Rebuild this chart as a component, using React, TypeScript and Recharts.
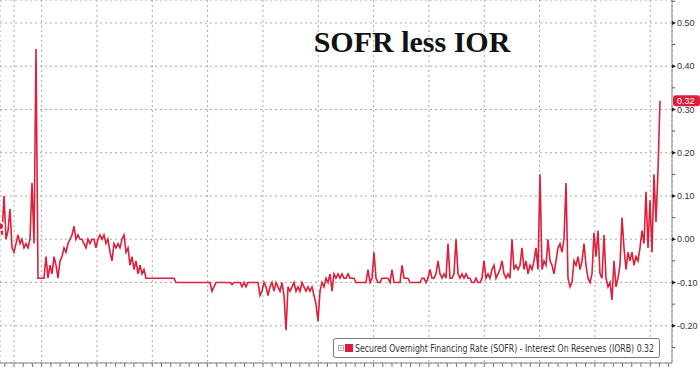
import React from 'react';
import { ComposedChart, Line, XAxis, YAxis, CartesianGrid, ReferenceLine } from 'recharts';

// SOFR minus IOR spread (percentage points), evenly spaced observations
const sofrLessIor: number[] = [
  0.03, 0.01, 0.10, 0.00, 0.02, 0.07, -0.02, -0.03, -0.01, 0.01,
  -0.01, 0.00, -0.02, -0.01, -0.02, 0.00, 0.13, -0.01, 0.44, -0.09,
  -0.09, -0.09, -0.09, -0.04, -0.09, -0.06, -0.08, -0.04, -0.06, -0.09,
  -0.05, -0.04, -0.02, -0.03, -0.01, 0.00, 0.01, 0.03, 0.00, 0.01,
  0.00, 0.00, -0.01, -0.02, 0.00, -0.01, 0.00, 0.00, -0.02, 0.00,
  0.01, 0.00, 0.01, -0.01, 0.00, -0.03, -0.05, -0.01, -0.02, -0.01,
  -0.02, 0.00, 0.01, -0.03, -0.02, -0.06, -0.04, -0.07, -0.05, -0.08,
  -0.06, -0.08, -0.07, -0.09, -0.09, -0.09, -0.09, -0.09, -0.09, -0.09,
  -0.09, -0.09, -0.09, -0.09, -0.09, -0.09, -0.09, -0.09, -0.10, -0.10,
  -0.10, -0.10, -0.10, -0.10, -0.10, -0.10, -0.10, -0.10, -0.10, -0.10,
  -0.10, -0.10, -0.10, -0.10, -0.10, -0.10, -0.12, -0.11, -0.10, -0.10,
  -0.10, -0.10, -0.10, -0.10, -0.10, -0.10, -0.105, -0.10, -0.10, -0.10,
  -0.10, -0.11, -0.10, -0.11, -0.10, -0.10, -0.10, -0.10, -0.10, -0.10,
  -0.13, -0.12, -0.10, -0.11, -0.13, -0.11, -0.10, -0.12, -0.10, -0.11,
  -0.12, -0.10, -0.13, -0.21, -0.11, -0.12, -0.11, -0.10, -0.12, -0.11,
  -0.12, -0.10, -0.11, -0.12, -0.11, -0.12, -0.11, -0.13, -0.15, -0.19,
  -0.12, -0.10, -0.11, -0.09, -0.10, -0.08, -0.12, -0.08, -0.09, -0.08,
  -0.09, -0.08, -0.09, -0.09, -0.08, -0.09, -0.09, -0.09, -0.10, -0.10,
  -0.10, -0.10, -0.10, -0.10, -0.07, -0.10, -0.09, -0.03, -0.09, -0.10,
  -0.10, -0.09, -0.09, -0.09, -0.09, -0.10, -0.07, -0.10, -0.10, -0.10,
  -0.10, -0.06, -0.09, -0.09, -0.09, -0.10, -0.10, -0.10, -0.10, -0.10,
  -0.10, -0.09, -0.09, -0.10, -0.09, -0.07, -0.09, -0.09, -0.08, -0.05,
  -0.08, -0.09, -0.08, -0.09, -0.01, -0.09, -0.09, -0.08, 0.00, -0.08,
  -0.09, -0.08, -0.09, -0.08, -0.09, -0.09, -0.10, -0.10, -0.09, -0.10,
  -0.10, -0.09, -0.05, -0.09, -0.08, -0.09, -0.07, -0.06, -0.09, -0.08,
  -0.07, -0.05, -0.08, -0.09, -0.08, -0.09, 0.00, -0.07, -0.06, -0.07,
  -0.06, -0.02, -0.07, -0.05, -0.08, -0.06, -0.07, -0.05, -0.02, -0.07,
  0.15, -0.07, -0.05, -0.06, 0.00, -0.05, -0.06, -0.08, -0.05, -0.02,
  -0.01, -0.03, 0.00, 0.13, -0.09, -0.11, -0.10, -0.05, -0.06, -0.04,
  -0.07, -0.05, -0.01, -0.06, -0.09, -0.10, -0.08, 0.015, -0.04, 0.02,
  -0.08, -0.09, 0.01, -0.09, -0.11, -0.10, -0.14, -0.05, -0.11, -0.09,
  -0.06, 0.05, -0.02, -0.07, -0.03, -0.05, -0.03, -0.06, -0.04, -0.05,
  -0.02, 0.02, -0.01, 0.11, -0.02, 0.09, -0.03, 0.15, 0.04, 0.16,
  0.32,
];

const lastValue = 0.32;
const title = 'SOFR less IOR';
const legendLabel = 'Secured Overnight Financing Rate (SOFR) - Interest On Reserves (IORB) 0.32';

const yMajorTicks = [-0.2, -0.1, 0, 0.1, 0.2, 0.3, 0.4, 0.5];
const yAllTicks = [-0.25, -0.2, -0.15, -0.1, -0.05, 0, 0.05, 0.1, 0.15, 0.2, 0.25, 0.3, 0.35, 0.4, 0.45, 0.5, 0.55];

const data = sofrLessIor.map((v, i) => ({ t: i, v }));

const X_DOMAIN: [number, number] = [0, 336];
const Y_DOMAIN: [number, number] = [-0.286, 0.553];
const xMajorTicks = Array.from({ length: 24 }, (_, k) => 7 + 13.83 * k);
const xMinorTicks = Array.from({ length: 74 }, (_, j) => 2.39 + 4.61 * j).filter((t) => t <= 336);

const RED = '#de1f3c';

const YTick = (props: any) => {
  const { x, y, payload } = props;
  const v = payload.value as number;
  const major = Math.abs(Math.round(v * 10) - v * 10) < 1e-6;
  if (!major) {
    return <line x1={x} x2={x + 3} y1={y} y2={y} stroke="#555" strokeWidth={1} />;
  }
  return (
    <g>
      <polygon points={`${x},${y - 2} ${x + 4},${y} ${x},${y + 2}`} fill="#222" />
      <text x={x + 5} y={y} dy={3.2} fontSize={9} fill="#333" fontFamily="'Liberation Sans', Arial, sans-serif">
        {v.toFixed(2)}
      </text>
    </g>
  );
};

const EmptyTick = () => <g />;

const LastBadge = (props: any) => {
  const vb = props.viewBox || {};
  const bx = (vb.x || 0) + (vb.width || 0) + 1;
  const by = vb.y || 0;
  return (
    <g>
      <rect x={bx} y={by - 5.5} width={27} height={11} rx={3} fill={RED} />
      <text x={bx + 4} y={by} dy={3.2} fontSize={9} fill="#fff" fontFamily="'Liberation Sans', Arial, sans-serif">
        {lastValue.toFixed(2)}
      </text>
    </g>
  );
};

export default function App() {
  return (
    <div style={{ position: 'absolute', left: 0, top: 0, width: 700, height: 375, background: '#fff' }}>
      <ComposedChart width={700} height={375} data={data} margin={{ top: 0, right: 0, bottom: 0, left: 0 }}>
        <XAxis xAxisId="g" dataKey="t" type="number" domain={X_DOMAIN} ticks={xMajorTicks} hide allowDataOverflow />
        <YAxis yAxisId="g" orientation="right" type="number" domain={Y_DOMAIN} ticks={yMajorTicks} hide width={28} allowDataOverflow />
        <CartesianGrid xAxisId="g" yAxisId="g" stroke="#a8a8a8" strokeDasharray="2 3" />
        <XAxis
          dataKey="t"
          type="number"
          domain={X_DOMAIN}
          ticks={xMinorTicks}
          interval={0}
          height={12}
          allowDataOverflow
          axisLine={{ stroke: '#888' }}
          tickLine={{ stroke: '#777' }}
          tickSize={4}
          tick={EmptyTick}
        />
        <YAxis
          orientation="right"
          type="number"
          domain={Y_DOMAIN}
          ticks={yAllTicks}
          interval={0}
          width={28}
          allowDataOverflow
          axisLine={{ stroke: '#888' }}
          tickLine={false}
          tickSize={0}
          tickMargin={0}
          tick={YTick}
        />
        <Line
          type="linear"
          dataKey="v"
          stroke={RED}
          strokeWidth={1.6}
          dot={false}
          isAnimationActive={false}
        />
        <ReferenceLine y={lastValue} stroke="none" ifOverflow="visible" label={LastBadge} />
      </ComposedChart>
      <svg width={700} height={375} style={{ position: 'absolute', left: 0, top: 0, pointerEvents: 'none' }}>
        <text x={412} y={52} textAnchor="middle" fontSize={30} fontWeight="bold" fill="#111" fontFamily="'Liberation Serif', 'Times New Roman', serif">
          {title}
        </text>
        <g transform="translate(333,338)">
          <rect x={0.5} y={0.5} width={326} height={19} rx={2} fill="#fff" stroke="#777" />
          <rect x={5.5} y={7.5} width={5} height={5} fill="#fff" stroke="#999" strokeWidth={0.8} />
          <line x1={6.5} x2={9.5} y1={10} y2={10} stroke="#999" strokeWidth={0.8} />
          <rect x={12} y={6} width={8} height={8} fill={RED} />
          <text x={22} y={14} fontSize={10} fill="#333" textLength={299} lengthAdjust="spacingAndGlyphs" fontFamily="'Liberation Sans Narrow', 'DejaVu Sans Condensed', 'Liberation Sans', Arial, sans-serif">
            {legendLabel}
          </text>
        </g>
      </svg>
    </div>
  );
}
